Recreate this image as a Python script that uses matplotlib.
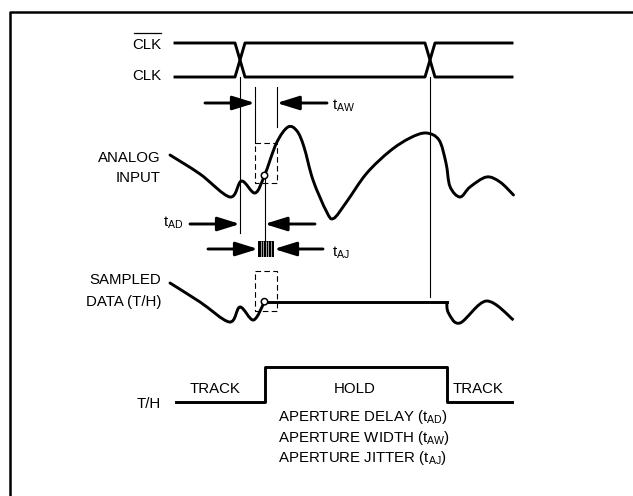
import numpy as np
import matplotlib
matplotlib.use('Agg')
import matplotlib.pyplot as plt
from matplotlib import font_manager
from matplotlib.path import Path
from matplotlib.patches import PathPatch, Rectangle, Circle

# narrow Helvetica look: use Liberation Sans Narrow if present, else shrink Liberation Sans
names = {f.name for f in font_manager.fontManager.ttflist}
if 'Liberation Sans Narrow' in names:
    plt.rcParams['font.family'] = ['Liberation Sans Narrow', 'DejaVu Sans']
    FS = 12
else:
    plt.rcParams['font.family'] = ['Liberation Sans', 'DejaVu Sans']
    FS = 10.8
plt.rcParams['mathtext.default'] = 'regular'

# waveform key points (pixel coords, y down)
clk_x = [175, 235, 245, 425, 435, 512]
clk_hi, clk_lo = 43, 77

analog_x = [170, 200, 230, 241.5, 255, 264.5, 276.5, 288, 297, 304, 313, 326.5,
            333.5, 346.5, 366.5, 390, 410, 426, 439, 446, 450, 460, 470, 486.5, 500, 513.5]
analog_y = [155, 174, 197, 181, 193, 175.5, 143, 127, 131, 147, 180, 211.5,
            218.5, 202, 173.5, 151, 138, 133, 140, 163, 186.5, 197, 187, 177, 182, 195]

sampled_x = [170, 200, 229.5, 240, 253.5, 264.5]
sampled_y = [283, 302, 322, 307, 320, 301.7]
hold_end_x = 446.7
sampled2_x = [446.7, 448.5, 460, 486.5, 513.5]
sampled2_y = [301.7, 313, 323, 301, 320]

th_x = [176, 265, 265, 446.7, 446.7, 511.7]
th_y = [402, 402, 366.5, 366.5, 402, 402]

sample_x = 264.5

LW = 2.1
THIN = 0.8


def smooth(xs, ys):
    pts = np.column_stack([xs, ys]).astype(float)
    n = len(pts)
    verts = [pts[0]]
    codes = [Path.MOVETO]
    for i in range(n - 1):
        p0 = pts[i - 1] if i > 0 else pts[i]
        p1, p2 = pts[i], pts[i + 1]
        p3 = pts[i + 2] if i + 2 < n else pts[i + 1]
        verts += [p1 + (p2 - p0) / 6, p2 - (p3 - p1) / 6, p2]
        codes += [Path.CURVE4] * 3
    return Path(verts, codes)


def arrow(ax, tail, tip):
    ax.annotate('', xy=tip, xytext=tail,
                arrowprops=dict(arrowstyle='-|>,head_length=1.35,head_width=0.42',
                                mutation_scale=10, lw=LW, color='black',
                                shrinkA=0, shrinkB=0))


fig = plt.figure(figsize=(6.33, 4.96), dpi=100)
ax = fig.add_axes([0, 0, 1, 1])
ax.set_xlim(0, 633)
ax.set_ylim(496, 0)
ax.axis('off')

# frame
ax.plot([9.5, 9.5, 650], [520, 11.7, 11.7], color='black', lw=1.8, solid_capstyle='butt')

# clocks
a_y = [clk_hi, clk_hi, clk_lo, clk_lo, clk_hi, clk_hi]
b_y = [clk_lo, clk_lo, clk_hi, clk_hi, clk_lo, clk_lo]
ax.plot(clk_x, a_y, color='black', lw=LW)
ax.plot(clk_x, b_y, color='black', lw=LW)

# thin reference lines
cross1 = (clk_x[1] + clk_x[2]) / 2
cross2 = (clk_x[3] + clk_x[4]) / 2
ax.plot([cross1, cross1], [clk_lo, 233], color='black', lw=THIN)
ax.plot([255, 255], [87, 143], color='black', lw=THIN)
ax.plot([276.7, 276.7], [87, 127], color='black', lw=THIN)
ax.plot([sample_x, sample_x], [175.5, 241], color='black', lw=THIN)
ax.plot([cross2, cross2], [clk_lo, 297], color='black', lw=THIN)

# dashed aperture boxes
for top, bot in [(143, 183.3), (270.7, 310.7)]:
    ax.add_patch(Rectangle((255, top), 21.7, bot - top, fill=False, ec='black',
                           lw=THIN, ls=(0, (5, 3))))

# analog input
ax.add_patch(PathPatch(smooth(analog_x, analog_y), fc='none', ec='black', lw=LW,
                       capstyle='round', joinstyle='round'))

# sampled data
ax.add_patch(PathPatch(smooth(sampled_x, sampled_y), fc='none', ec='black', lw=LW,
                       capstyle='round', joinstyle='round'))
ax.plot([sample_x, hold_end_x], [sampled_y[-1], sampled_y[-1]], color='black', lw=LW)
ax.add_patch(PathPatch(smooth(sampled2_x, sampled2_y), fc='none', ec='black', lw=LW,
                       capstyle='butt', joinstyle='round'))

# sample points
for cy in [analog_y[5], sampled_y[-1]]:
    ax.add_patch(Circle((sample_x, cy), 3.2, fc='white', ec='black', lw=1.1, zorder=5))

# T/H
ax.plot(th_x, th_y, color='black', lw=LW)

# arrows
arrow(ax, (205, 103), (255, 103))
arrow(ax, (327, 103), (276.7, 103))
arrow(ax, (190, 224), (cross1, 224))
arrow(ax, (315, 224), (sample_x, 224))
arrow(ax, (208, 249), (258, 249))
arrow(ax, (323, 249), (274, 249))

# jitter block: black block with thin white gaps
ax.add_patch(Rectangle((258, 241), 16, 16, fc='black', ec='none', zorder=3))
for jx in np.arange(260.5, 273, 2.5):
    ax.plot([jx, jx], [241, 257], color='white', lw=0.45, solid_capstyle='butt', zorder=4)

kw = dict(fontsize=FS, color='black')
ax.text(161, 45, 'CLK', ha='right', va='center', **kw)
ax.plot([134, 160.5], [33, 33], color='black', lw=0.9)
ax.text(161, 76.5, 'CLK', ha='right', va='center', **kw)
ax.text(161, 158, 'ANALOG', ha='right', va='center', **kw)
ax.text(161, 178.5, 'INPUT', ha='right', va='center', **kw)
ax.text(161, 280, 'SAMPLED', ha='right', va='center', **kw)
ax.text(161, 302, 'DATA (T/H)', ha='right', va='center', **kw)
ax.text(161, 404, 'T/H', ha='right', va='center', **kw)

ax.text(332, 110, r'$t_{AW}$', ha='left', va='baseline', **kw)
ax.text(183, 227, r'$t_{AD}$', ha='right', va='baseline', **kw)
ax.text(332.5, 256.5, r'$t_{AJ}$', ha='left', va='baseline', **kw)

ax.text(215, 389, 'TRACK', ha='center', va='center', **kw)
ax.text(355, 389, 'HOLD', ha='center', va='center', **kw)
ax.text(478, 389, 'TRACK', ha='center', va='center', **kw)

ax.text(278, 417, r'APERTURE DELAY ($t_{AD}$)', ha='left', va='center', **kw)
ax.text(278, 438, r'APERTURE WIDTH ($t_{AW}$)', ha='left', va='center', **kw)
ax.text(278, 458, r'APERTURE JITTER ($t_{AJ}$)', ha='left', va='center', **kw)

fig.savefig('out.png', dpi=100)
